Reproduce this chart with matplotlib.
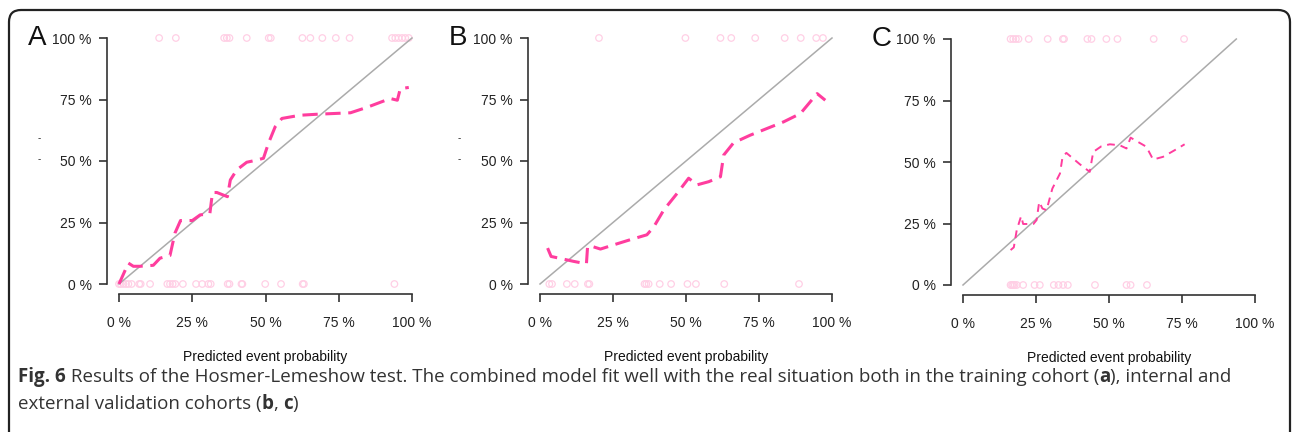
import matplotlib
matplotlib.use("Agg")
import matplotlib.pyplot as plt
from matplotlib.patches import FancyBboxPatch
from matplotlib.transforms import IdentityTransform

# panel A (training cohort)
a_curve_x = [0, 3.2, 4.9, 7.2, 11.7, 14, 17.4, 19.1, 21, 25, 27.7, 31, 31.9, 33.4, 37, 38, 40.2,
             43.6, 46, 49.3, 51, 53.3, 55.6, 61.8, 67.5, 79, 84.6, 92.6, 95, 96, 98.9]
a_curve_y = [0, 8.5, 7.2, 7.2, 7.6, 10.5, 11.6, 20.7, 25.8, 25.8, 28.1, 28.5, 37.2, 37.2, 35.5, 42.3, 46.4,
             49.5, 50.1, 51.1, 57.2, 63.9, 67.3, 68.6, 69, 69.6, 71.8, 75.4, 74.7, 79.4, 79.9]
a_top_x = [13.7, 19.4, 35.9, 36.8, 37.7, 43.6, 51.1, 51.8, 62.6, 65.3, 69.4, 74, 78.7,
           93.2, 94.3, 95.4, 96.6, 97.7, 98.9]
a_bottom_x = [0, 0.6, 1.5, 2.4, 3.2, 4.3, 6.9, 7.4, 10.6, 16.5, 17.4, 18.3, 19.2, 21.8, 26.3, 28.4,
              30.5, 31.3, 37.1, 37.7, 41.8, 42.1, 49.9, 55.3, 62.7, 63.1, 94]

# panel B (internal validation)
b_curve_x = [2.6, 3.8, 8.1, 11.5, 15.9, 16.3, 17.8, 20.7, 25.2, 30.9, 36.6, 38.9, 42.4, 47, 50.9,
             53.8, 57.8, 61.8, 62.9, 66.3, 72, 77.7, 83.4, 89.2, 94.9, 97.7]
b_curve_y = [14.6, 11.2, 10.1, 9.2, 8.2, 15.3, 15.3, 14.2, 15.9, 18, 20, 23.1, 30.1, 36.9, 43,
             40.3, 41.6, 43.6, 52.4, 57.4, 60.5, 63.2, 65.9, 69.3, 77.4, 74.7]
b_top_x = [20.2, 49.8, 61.8, 65.5, 73.7, 83.8, 89.3, 94.6, 96.9]
b_bottom_x = [3.2, 4.1, 9.2, 11.9, 16.4, 16.9, 35.8, 36.4, 37.2, 41, 44.9, 50.5, 53.4, 63.1, 88.7]

# panel C (external validation)
c_curve_x = [16.3, 17.4, 18.4, 19.9, 20.6, 24.1, 25.2, 26.1, 27.2, 28.6, 30.6, 33.2, 34.1, 35.4, 40,
             43.4, 44.6, 47.4, 50.3, 53.7, 56, 57.4, 62.8, 65.1, 68.5, 72.5, 75.9]
c_curve_y = [14.2, 15.3, 22.3, 28, 24.8, 24.8, 26.4, 33.8, 31.1, 30.4, 39.2, 45.3, 52.1, 53.7, 49.1,
             46, 54.1, 56.4, 57.2, 56.8, 55.5, 59.9, 56.2, 51, 52.1, 54.8, 57.2]
c_top_x = [16.3, 17.2, 18.1, 19, 22.5, 29, 34.2, 34.6, 42.6, 44, 49.1, 52.9, 65.3, 75.7]
c_bottom_x = [16.3, 16.8, 17.2, 17.7, 18.4, 20.6, 24.5, 26.3, 31.1, 32.7, 34.3, 35.9, 45.2, 56, 57.4, 63]

ideal_ab = [0, 100]
ideal_c_x = [0, 93.6]
ideal_c_y = [0, 100]

ticks = [0, 25, 50, 75, 100]
tick_labels = ["0 %", "25 %", "50 %", "75 %", "100 %"]
xlabel = "Predicted event probability"

W, H = 1292, 432
fig = plt.figure(figsize=(W / 100, H / 100), dpi=100)

pink = "#ff3d9e"
pale = "#ffcfe5"
axcol = "#333333"


def make_axes(x0, x100, y0, y100):
    return fig.add_axes([x0 / W, (H - y0) / H, (x100 - x0) / W, (y0 - y100) / H])


def draw_panel(ax, cx, cy, top, bottom, ix, iy, letter, lw, dashes):
    ax.set_xlim(0, 100)
    ax.set_ylim(0, 100)
    ax.plot(ix, iy, color="#ababab", lw=1.1, clip_on=False)
    ax.plot(cx, cy, color=pink, lw=lw, dashes=dashes, clip_on=False)
    ax.scatter(top, [100] * len(top), s=22, facecolors="none", edgecolors=pale, linewidths=0.9, clip_on=False)
    ax.scatter(bottom, [0] * len(bottom), s=22, facecolors="none", edgecolors=pale, linewidths=0.9, clip_on=False)
    for s in ["top", "right"]:
        ax.spines[s].set_visible(False)
    ax.spines["left"].set_position(("outward", 8.6))
    ax.spines["bottom"].set_position(("outward", 7.2))
    ax.spines["left"].set_bounds(0, 100)
    ax.spines["bottom"].set_bounds(0, 100)
    for s in ["left", "bottom"]:
        ax.spines[s].set_color(axcol)
        ax.spines[s].set_linewidth(1.2)
    ax.set_xticks(ticks)
    ax.set_yticks(ticks)
    ax.set_xticklabels(tick_labels)
    ax.set_yticklabels(tick_labels)
    ax.tick_params(axis="both", length=6, width=1.2, color=axcol, labelsize=10, labelcolor="#222222")
    ax.tick_params(axis="x", pad=10)
    ax.tick_params(axis="y", pad=5)
    ax.set_xlabel(xlabel, fontsize=10, labelpad=14, color="#111111")
    ax.patch.set_visible(False)
    ax.text(-0.28, 1.0, letter, transform=ax.transAxes, fontsize=20, ha="center", va="center",
            color="#111111")


plt.rcParams["font.family"] = ["Liberation Sans", "DejaVu Sans"]

ax1 = make_axes(119, 412, 284, 38)
draw_panel(ax1, a_curve_x, a_curve_y, a_top_x, a_bottom_x, ideal_ab, ideal_ab, "A", 2.2, (5, 2.5))
ax2 = make_axes(540, 832, 284, 38)
draw_panel(ax2, b_curve_x, b_curve_y, b_top_x, b_bottom_x, ideal_ab, ideal_ab, "B", 2.2, (5, 2.5))
ax3 = make_axes(963, 1255, 285, 39)
draw_panel(ax3, c_curve_x, c_curve_y, c_top_x, c_bottom_x, ideal_c_x, ideal_c_y, "C", 1.4, (4, 3))

# remnants of the cropped y labels
for xx in [39, 459]:
    for yy in [138, 159]:
        fig.text(xx / W, 1 - yy / H, "-", fontsize=7, ha="center", va="center", color="#222222")

# border of the figure box
box = FancyBboxPatch((9, -40), 1281, H - 10 + 40, boxstyle="round,pad=0,rounding_size=12",
                     transform=IdentityTransform(), fill=False, edgecolor="#222222", lw=1.6)
fig.patches.append(box)

# caption with bold fragments
line1 = [("Fig. 6", "bold"), (" Results of the Hosmer-Lemeshow test. The combined model fit well with the real "
                              "situation both in the training cohort (", "normal"),
         ("a", "bold"), ("), internal and", "normal")]
line2 = [("external validation cohorts (", "normal"), ("b", "bold"), (", ", "normal"), ("c", "bold"),
         (")", "normal")]

fig.canvas.draw()
renderer = fig.canvas.get_renderer()
for parts, ypix in [(line1, 377), (line2, 404)]:
    xpix = 18
    for s, w in parts:
        t = fig.text(xpix / W, 1 - ypix / H, s, fontsize=13.5, fontweight=w, ha="left", va="center",
                     color="#333333", family=["Open Sans", "DejaVu Sans"])
        bb = t.get_window_extent(renderer=renderer)
        xpix += bb.width

fig.savefig("out.png", dpi=100)
